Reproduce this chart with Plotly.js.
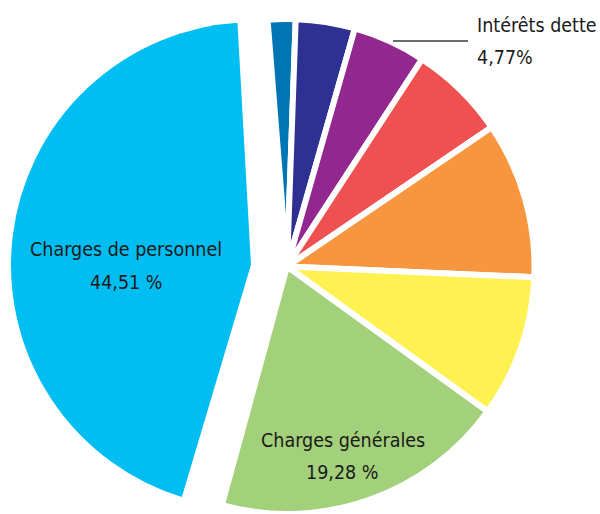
<!DOCTYPE html>
<html>
<head>
<meta charset="utf-8">
<script src="https://cdn.plot.ly/plotly-3.0.1.min.js"></script>
<style>
html,body{margin:0;padding:0;background:#fff;overflow:hidden;}
#chart{width:600px;height:514px;}
#chart text{font-stretch:condensed !important;}
</style>
</head>
<body>
<div id="chart"></div>
<script>
// Slices, clockwise from 12 o'clock
const labels = ['Poste A', 'Poste B', 'Intérêts dette', 'Poste C', 'Poste D', 'Poste E', 'Charges générales', 'Charges de personnel'];
const values = [1.81, 3.86, 4.77, 6.3, 10.2, 9.27, 19.28, 44.51];
const colors = ['#0075B3', '#2E3192', '#92278F', '#EF5050', '#F7963E', '#FFF150', '#A3D07A', '#00BDF2'];
const shownText = {
  'Charges de personnel': ['Charges de personnel', '44,51 %'],
  'Charges générales': ['Charges générales', '19,28 %'],
  'Intérêts dette': ['Intérêts dette', '4,77%']
};
const pulledLabel = 'Charges de personnel';

const W = 600, H = 514;
const FONT = '"DejaVu Sans Condensed", "DejaVu Sans", sans-serif';
const clear = 'rgba(0,0,0,0)';

const mainColors = labels.map((l, i) => l === pulledLabel ? clear : colors[i]);
const mainLines = labels.map(l => l === pulledLabel ? clear : '#ffffff');
const pullColors = labels.map((l, i) => l === pulledLabel ? colors[i] : clear);
const pullLines = labels.map(l => l === pulledLabel ? '#ffffff' : clear);

function dom(cx, cy, r) {
  return {x: [(cx - r) / W, (cx + r) / W], y: [(H - cy - r) / H, (H - cy + r) / H]};
}

const common = {
  type: 'pie', labels: labels, values: values, sort: false,
  direction: 'clockwise', textinfo: 'none',
  hoverinfo: 'skip', showlegend: false
};

const traces = [
  Object.assign({}, common, {rotation: -4.5, domain: dom(287, 267, 248), marker: {colors: mainColors, line: {color: mainLines, width: 6}}}),
  Object.assign({}, common, {rotation: -3.2, domain: dom(254, 265, 246), marker: {colors: pullColors, line: {color: pullLines, width: 6}}})
];

const ann = [];
function addText(x, y, t, anchor) {
  ann.push({xref: 'paper', yref: 'paper', x: x / W, y: 1 - y / H, text: t, showarrow: false,
    xanchor: anchor || 'center', yanchor: 'middle', font: {family: FONT, size: 19.5, color: '#1a1a1a'}});
}
addText(126, 249, shownText['Charges de personnel'][0]);
addText(126, 282, shownText['Charges de personnel'][1]);
addText(343, 440, shownText['Charges générales'][0]);
addText(342, 472, shownText['Charges générales'][1]);
addText(475, 25, shownText['Intérêts dette'][0], 'left');
addText(475, 57, shownText['Intérêts dette'][1], 'left');

const layout = {
  width: W, height: H,
  margin: {l: 0, r: 0, t: 0, b: 0},
  paper_bgcolor: '#ffffff', plot_bgcolor: '#ffffff',
  showlegend: false,
  annotations: ann,
  shapes: [{type: 'line', xref: 'paper', yref: 'paper', x0: 393 / W, x1: 468 / W, y0: 1 - 41 / H, y1: 1 - 41 / H,
    line: {color: '#3a3a3a', width: 1.3}}]
};

Plotly.newPlot('chart', traces, layout, {staticPlot: true, displayModeBar: false});
</script>
</body>
</html>
